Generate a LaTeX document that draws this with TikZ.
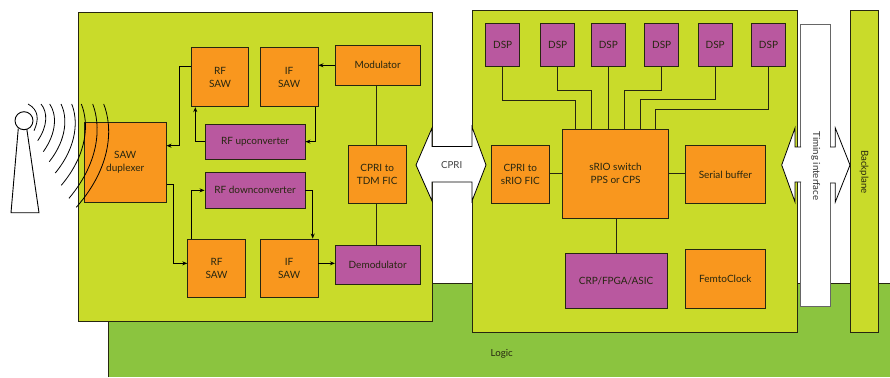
\documentclass[tikz,border=0pt]{standalone}
\usepackage{fontspec}
\setmainfont{Lato}
\usepackage{xcolor}
\usetikzlibrary{arrows.meta, positioning, calc}
\definecolor{limepanel}{HTML}{C9DB2A}
\definecolor{logicgreen}{HTML}{8BC43F}
\definecolor{saworange}{HTML}{F9971E}
\definecolor{chippurple}{HTML}{B9589F}
\definecolor{inkline}{HTML}{262610}
\tikzset{
    orangebox/.style={draw=inkline, line width=0.9pt, fill=saworange, inner sep=0pt, align=center, text=inkline, font=\fontsize{10}{13}\selectfont},
    purplebox/.style={orangebox, fill=chippurple},
    panel/.style={draw=inkline, line width=0.9pt, fill=limepanel},
    sigline/.style={draw=black, line width=0.9pt, -{Stealth[length=5pt,width=4pt]}},
    busline/.style={draw=inkline, line width=1pt},
    bigarrow/.style={draw=black, line width=0.8pt, fill=white, line join=miter},
    plainlabel/.style={inner sep=0pt, text=inkline, font=\fontsize{9.7}{12}\selectfont}
}

\begin{document}
\begin{tikzpicture}[x=1pt, y=-1pt]
    \useasboundingbox (0,0) rectangle (890,377);

    % Logic ground and panels
    \fill[logicgreen] (108,283.5) rectangle (890,377);
    \draw[inkline, line width=0.9pt] (108,377) -- (108,283.5) -- (890,283.5);
    \draw[panel] (78,12.5) rectangle (432.5,321);
    \draw[panel] (472,10) rectangle (797.3,332.5);
    \draw[panel] (850.7,10) rectangle (878.7,332.5);

    % Timing strip
    \draw[draw=black!60, line width=1pt, fill=white] (800,25) rectangle (830,306);

    % Wide white arrows
    \draw[bigarrow] (432,146.5) -- (432,128) -- (416,165) -- (432,201) -- (432,182) -- (472,182)
        -- (472,201) -- (486,165) -- (472,127) -- (472,146.5) -- cycle;
    \fill[white] (796,147.5) rectangle (815,181.5);
    \fill[white] (815,147.5) rectangle (835,182.5);
    \draw[bigarrow] (801,147) -- (795,147) -- (795,128) -- (781.7,165) -- (795,202) -- (795,182) -- (801,182);
    \draw[bigarrow] (830,147) -- (835.3,147) -- (835.3,128) -- (850,165) -- (835.3,202) -- (835.3,183) -- (830,183);

    % Left panel blocks
    \node[orangebox, minimum width=81.7, minimum height=79.6] (duplexer) at (125.2,162.5) {SAW\\duplexer};
    \node[orangebox, minimum width=57.4, minimum height=59] (rfsawtop) at (220,77.2) {RF\\SAW};
    \node[orangebox, minimum width=57.7, minimum height=59] (ifsawtop) at (289.15,77.2) {IF\\SAW};
    \node[orangebox, minimum width=84.7, minimum height=40] (modulator) at (377.7,65.3) {Modulator};
    \node[purplebox, minimum width=100, minimum height=35.3] (upconv) at (255,141.65) {RF upconverter};
    \node[purplebox, minimum width=100, minimum height=35.3] (downconv) at (255,190.35) {RF downconverter};
    \node[orangebox, minimum width=57.7, minimum height=58.4] (tdmfic) at (377.2,174.5) {CPRI to\\TDM FIC};
    \node[orangebox, minimum width=57.6, minimum height=58.7] (rfsawbot) at (216.5,268.35) {RF\\SAW};
    \node[orangebox, minimum width=57.7, minimum height=58.7] (ifsawbot) at (289.15,268.35) {IF\\SAW};
    \node[purplebox, minimum width=84.7, minimum height=39.7] (demod) at (377.7,264.85) {Demodulator};

    % Left panel signal paths
    \draw[sigline] ([yshift=10.9pt]rfsawtop.west) -- ++(-11,0) |- ([yshift=16.8pt]duplexer.east);
    \draw[sigline] (upconv.west) -| ([xshift=-24.7pt]rfsawtop.south);
    \draw[sigline] ([xshift=26.15pt]ifsawtop.south) |- (upconv.east);
    \draw[sigline] (modulator.west) -- (modulator.west -| ifsawtop.east);
    \draw[sigline] ([yshift=-21.8pt]duplexer.east) -- ++(6.7,0) |- ([yshift=5pt]rfsawbot.west);
    \draw[sigline] ([xshift=-25.2pt]rfsawbot.north) |- (downconv.west);
    \draw[sigline] (downconv.east) -| ([xshift=23.55pt]ifsawbot.north);
    \draw[sigline] ([yshift=5pt]ifsawbot.east) -- ([yshift=5pt]ifsawbot.east -| demod.west);
    \draw[busline] (tdmfic.north -| 376,0) -- (modulator.south -| 376,0);
    \draw[busline] (tdmfic.south -| 376,0) -- (demod.north -| 376,0);

    % Right panel blocks
    \foreach \dspname/\dspx in {dspa/502.7, dspb/557.7, dspc/608.3, dspd/661.7, dspe/715.15, dspf/768.5}
        \node[purplebox, minimum width=34, minimum height=42.6] (\dspname) at (\dspx,45) {DSP};
    \node[orangebox, minimum width=105.6, minimum height=88.3] (srio) at (615.5,173.85) {sRIO switch\\PPS or CPS};
    \node[orangebox, minimum width=58, minimum height=58.4] (sriofic) at (520.3,174.5) {CPRI to\\sRIO FIC};
    \node[orangebox, minimum width=80.7, minimum height=58.4] (serialbuf) at (725.35,174.5) {Serial buffer};
    \node[purplebox, minimum width=101.7, minimum height=55.3] (asic) at (616.15,280.65) {CRP/FPGA/ASIC};
    \node[orangebox, minimum width=80.7, minimum height=58.6] (femto) at (725.35,279) {FemtoClock};

    % Right panel buses
    \foreach \dspname/\drop/\shft in {dspa/33.4/-40.5, dspb/23.7/-24.5, dspc/20/-7.2, dspd/23.7/8.5, dspe/32.7/24.5, dspf/42.4/39.5}
        \draw[busline] (\dspname.south) -- ++(0,\drop) -| ([xshift=\shft pt]srio.north);
    \draw[busline] (sriofic.east |- 0,173) -- (srio.west |- 0,173);
    \draw[busline] (srio.east |- 0,173) -- (serialbuf.west |- 0,173);
    \draw[busline] (srio.south -| 616.3,0) -- (asic.north -| 616.3,0);

    % Antenna and radio waves
    \draw[black, line width=0.9pt, fill=white, line join=miter] (18.3,128.3) -- (11,212.7) -- (39,212.7) -- (26.7,128.3);
    \node[draw=black, line width=0.9pt, fill=white, circle, minimum size=18, inner sep=0pt] (mast) at (24,120.7) {};
    \foreach \topx/\peakx/\botx/\boty in {28/37/34/130.7, 41/45.7/37.7/140.7, 49.7/54.3/43.3/151.7, 61/64.3/49.3/161.7,
            71.7/74.3/55.3/173, 81.3/84.3/61.3/185.3, 92.7/95.7/69/198.3, 103.7/107/76.3/207.3} {
        \pgfmathsetmacro{\ctrlx}{(8*\peakx-\topx-\botx)/6}
        \pgfmathsetmacro{\ctrla}{104+(\boty-104)*0.22}
        \pgfmathsetmacro{\ctrlb}{104+(\boty-104)*0.6}
        \draw[black, line width=0.8pt] (\topx,104) .. controls (\ctrlx,\ctrla) and (\ctrlx,\ctrlb) .. (\botx,\boty);
    }

    % Free labels
    \node[plainlabel, text=black!75] (cprilabel) at (451.7,165) {CPRI};
    \node[plainlabel, rotate=-90, text=black!80] (timinglabel) at (815.7,166) {Timing interface};
    \node[plainlabel, rotate=-90] (backplanelabel) at (864,172) {Backplane};
    \node[plainlabel] (logiclabel) at (501.7,354.3) {Logic};
\end{tikzpicture}
\end{document}
